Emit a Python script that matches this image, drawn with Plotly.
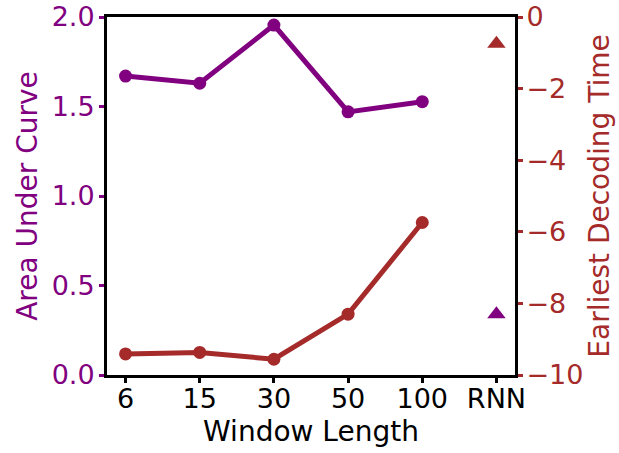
import plotly.graph_objects as go

windows = ["6", "15", "30", "50", "100"]
rnn_label = ["RNN"]
auc_values = [1.67, 1.63, 1.955, 1.47, 1.527]
edt_values = [-9.41, -9.37, -9.56, -8.30, -5.74]
rnn_auc = [0.34]
rnn_edt = [-0.75]

categories = windows + rnn_label
PURPLE = "#800080"
BROWN = "#A52A2A"
FONT = "DejaVu Sans"
FS = 27

fig = go.Figure()
fig.add_trace(go.Scatter(x=windows, y=auc_values, mode="lines+markers",
                         line=dict(color=PURPLE, width=5),
                         marker=dict(color=PURPLE, size=13), yaxis="y", showlegend=False,
                         cliponaxis=False))
fig.add_trace(go.Scatter(x=rnn_label, y=rnn_auc, mode="markers",
                         marker=dict(color=PURPLE, size=16, symbol="triangle-up"),
                         yaxis="y", showlegend=False))
fig.add_trace(go.Scatter(x=windows, y=edt_values, mode="lines+markers",
                         line=dict(color=BROWN, width=5),
                         marker=dict(color=BROWN, size=13), yaxis="y2", showlegend=False))
fig.add_trace(go.Scatter(x=rnn_label, y=rnn_edt, mode="markers",
                         marker=dict(color=BROWN, size=16, symbol="triangle-up"),
                         yaxis="y2", showlegend=False))

fig.update_layout(
    width=619, height=453,
    margin=dict(l=107, r=104, t=17, b=78),
    paper_bgcolor="white", plot_bgcolor="white",
    font=dict(family=FONT, size=FS, color="black"),
    xaxis=dict(type="category", categoryorder="array", categoryarray=categories,
               range=[-0.25, 5.25], showgrid=False, zeroline=False, automargin=False,
               showline=True, linecolor="black", linewidth=3, mirror=True,
               ticks="outside", ticklen=5, tickwidth=2.5, tickcolor="black",
               ticklabelstandoff=-7,
               tickfont=dict(size=FS, color="black"),
               title=dict(text="Window Length", font=dict(size=28, color="black"), standoff=8)),
    yaxis=dict(range=[0, 2.0], tickvals=[0, 0.5, 1.0, 1.5, 2.0],
               ticktext=["0.0", "0.5", "1.0", "1.5", "2.0"],
               showgrid=False, zeroline=False, automargin=False,
               showline=True, linecolor="black", linewidth=3,
               ticks="outside", ticklen=5, tickwidth=2.5, tickcolor=PURPLE,
               ticklabelstandoff=-1,
               tickfont=dict(size=FS, color=PURPLE),
               title=dict(text="Area Under Curve", font=dict(size=28, color=PURPLE), standoff=6)),
    yaxis2=dict(range=[-10, 0], tickvals=[-10, -8, -6, -4, -2, 0],
                overlaying="y", side="right", showgrid=False, zeroline=False, automargin=False,
                showline=True, linecolor="black", linewidth=3,
                ticks="outside", ticklen=5, tickwidth=2.5, tickcolor=BROWN,
                ticklabelstandoff=-2,
                tickfont=dict(size=FS, color=BROWN),
                title=dict(text="Earliest Decoding Time", font=dict(size=28, color=BROWN), standoff=8)),
)

fig.write_html("out.html", config={"displayModeBar": False},
               post_script="document.body.style.margin='0';")
